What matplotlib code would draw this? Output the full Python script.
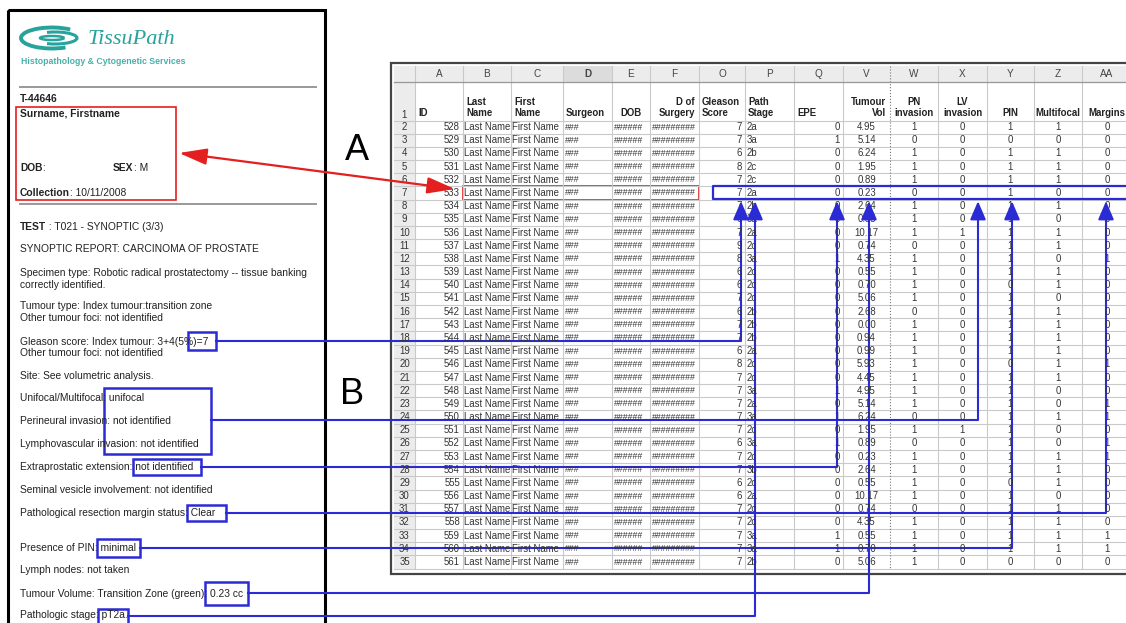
import numpy as np
import matplotlib.pyplot as plt
from matplotlib.patches import Rectangle, Arc

# ---- spreadsheet data (rows 2..35) ----
ids = list(range(528, 562))
gleason = [7, 7, 6, 8, 7, 7, 7, 6, 7, 9, 8, 6, 6, 7, 6, 7, 7, 6, 8, 7, 7, 7, 7, 7, 6, 7, 7, 6, 6, 7, 7, 7, 7, 7]
path_stage = ['2a', '3a', '2b', '2c', '2c', '2a', '2b', '3a', '2a', '2c', '3a', '2c', '2c', '2c', '2b', '2b', '2b',
              '2a', '2c', '2c', '3a', '2a', '3a', '2c', '3a', '2c', '3b', '2c', '2a', '2c', '2c', '3a', '3a', '2b']
epe = [0, 1, 0, 0, 0, 0, 0, 0, 0, 0, 1, 0, 0, 0, 0, 0, 0, 0, 0, 0, 1, 0, 1, 0, 1, 0, 0, 0, 0, 0, 0, 1, 1, 0]
tumour_vol = [4.95, 5.14, 6.24, 1.95, 0.89, 0.23, 2.64, 0.55, 10.17, 0.74, 4.35, 0.55, 0.70, 5.06, 2.68,
              0.00, 0.94, 0.99, 5.93, 4.45, 4.95, 5.14, 6.24, 1.95, 0.89, 0.23, 2.64, 0.55, 10.17, 0.74,
              4.35, 0.55, 0.70, 5.06]
pn_inv = [1, 0, 1, 1, 1, 0, 1, 1, 1, 0, 1, 1, 1, 1, 0, 1, 1, 1, 1, 1, 1, 1, 0, 1, 0, 1, 1, 1, 1, 0, 1, 1, 1, 1]
lv_inv = [0, 0, 0, 0, 0, 0, 0, 0, 1, 0, 0, 0, 0, 0, 0, 0, 0, 0, 0, 0, 0, 0, 0, 1, 0, 0, 0, 0, 0, 0, 0, 0, 0, 0]
pin = [1, 0, 1, 1, 1, 1, 1, 1, 1, 1, 1, 1, 0, 1, 1, 1, 1, 1, 0, 1, 1, 1, 1, 1, 1, 1, 1, 0, 1, 1, 1, 1, 1, 0]
multifocal = [1, 0, 1, 1, 1, 0, 1, 0, 1, 1, 0, 1, 1, 0, 1, 1, 1, 1, 1, 1, 0, 0, 1, 0, 0, 1, 1, 1, 0, 1, 1, 1, 1, 0]
margins = [0, 0, 0, 0, 0, 0, 0, 0, 0, 0, 1, 0, 0, 0, 0, 0, 0, 0, 1, 0, 0, 1, 1, 0, 1, 1, 0, 0, 0, 0, 0, 1, 1, 0]

col_letters = ['A', 'B', 'C', 'D', 'E', 'F', 'O', 'P', 'Q', 'V', 'W', 'X', 'Y', 'Z', 'AA']
col_headers = ['ID', 'Last\nName', 'First\nName', 'Surgeon', 'DOB', 'D of\nSurgery', 'Gleason\nScore',
               'Path\nStage', 'EPE', 'Tumour\nVol', 'PN\ninvasion', 'LV\ninvasion', 'PIN', 'Multifocal', 'Margins']

# ---- report text ----
report_lines = [
    ('TEST', ' : T021 - SYNOPTIC (3/3)', 227),
    ('', 'SYNOPTIC REPORT: CARCINOMA OF PROSTATE', 249),
    ('', 'Specimen type: Robotic radical prostatectomy -- tissue banking', 273),
    ('', 'correctly identified.', 285),
    ('', 'Tumour type: Index tumour:transition zone', 306),
    ('', 'Other tumour foci: not identified', 318),
    ('', 'Gleason score: Index tumour: 3+4(5%)=7', 342),
    ('', 'Other tumour foci: not identified', 353),
    ('', 'Site: See volumetric analysis.', 376),
    ('', 'Unifocal/Multifocal: unifocal', 398),
    ('', 'Perineural invasion: not identified', 421),
    ('', 'Lymphovascular invasion: not identified', 444),
    ('', 'Extraprostatic extension: not identified', 467),
    ('', 'Seminal vesicle involvement: not identified', 490),
    ('', 'Pathological resection margin status: Clear', 513),
    ('', 'Presence of PIN: minimal', 548),
    ('', 'Lymph nodes: not taken', 570),
    ('', 'Tumour Volume: Transition Zone (green): 0.23 cc', 594),
    ('', 'Pathologic stage: pT2a.', 615),
]

FONT = 'Liberation Sans'
BLUE = '#2b2bd6'
RED = '#e41f1f'
TEAL = '#27a39c'
TXT = '#222222'

fig = plt.figure(figsize=(11.26, 6.23), dpi=100)
ax = fig.add_axes([0, 0, 1, 1])
ax.set_xlim(0, 1126)
ax.set_ylim(623, 0)
ax.axis('off')
renderer = fig.canvas.get_renderer()


def mixed(x, y, bold, rest, size=7.4):
    if bold:
        t = ax.text(x, y, bold, fontsize=size, fontweight='bold', family=FONT, color=TXT, va='center')
        x += t.get_window_extent(renderer).width
    ax.text(x, y, rest, fontsize=size, family=FONT, color=TXT, va='center')


# ---------------- report panel ----------------
ax.add_patch(Rectangle((8, 10), 317, 640, fill=False, ec='black', lw=2.2))
# logo swirl
for cx, w, h, lw, t1, t2 in [(52, 62, 21, 2.8, 35, 335), (55, 44, 12, 2.2, 215, 505), (52, 24, 4, 1.8, 0, 360)]:
    ax.add_patch(Arc((cx, 38), w, h, theta1=t1, theta2=t2, color=TEAL, lw=lw))
ax.text(88, 40, 'TissuPath', family='Liberation Serif', style='italic', fontsize=16, color=TEAL, va='center')
ax.text(21, 61, 'Histopathology & Cytogenetic Services', family=FONT, fontsize=6.3, fontweight='bold',
        color=TEAL, va='center', alpha=0.85)
ax.plot([20, 316], [87, 87], color='#999999', lw=1.4)
ax.plot([20, 316], [204, 204], color='#999999', lw=1.4)

mixed(20, 99, 'T-44646', '')
mixed(20, 114, 'Surname, Firstname', '')
mixed(20, 168, 'DOB', ':')
mixed(113, 168, 'SEX', ': M')
mixed(20, 193, 'Collection', ': 10/11/2008')
for b, r, y in report_lines:
    mixed(20, y, b, r)

ax.add_patch(Rectangle((16, 107), 160, 93, fill=False, ec=RED, lw=1.2))

ax.text(357, 151, 'A', family=FONT, fontsize=26, ha='center', va='center', color='black')
ax.text(352, 394, 'B', family=FONT, fontsize=26, ha='center', va='center', color='black')

# ---------------- spreadsheet ----------------
col_edges = [415, 463, 511, 563, 612, 650, 699, 745, 794, 843, 890, 938, 987, 1034, 1082, 1132]
left, top, head_bot, row1_bot, rh = 394, 66, 82, 120.5, 13.18
n = len(ids)
bottom = row1_bot + n * rh
grid = '#c9c9c9'
fs = 6.9

ax.add_patch(Rectangle((left - 3, top - 3), 760, bottom - top + 8, fc='white', ec='#444444', lw=1.6))
ax.add_patch(Rectangle((left, top), 740, head_bot - top, fc='#ececec', ec='none'))
ax.add_patch(Rectangle((left, head_bot), col_edges[0] - left, bottom - head_bot, fc='#ececec', ec='none'))
ax.add_patch(Rectangle((col_edges[3], top), col_edges[4] - col_edges[3], head_bot - top, fc='#dcdcdc', ec='none'))

row_edges = [head_bot, row1_bot] + [row1_bot + (i + 1) * rh for i in range(n)]
for y in row_edges:
    ax.plot([left, 1126], [y, y], color=grid, lw=0.8)
for i, x in enumerate(col_edges[:-1]):
    ls = ':' if col_letters[i] == 'W' else '-'
    c = '#777777' if ls == ':' else grid
    ax.plot([x, x], [top, bottom], color=c, lw=0.8, ls=ls)
ax.plot([left, 1126], [head_bot, head_bot], color='#999999', lw=0.9)

centers = [(a + b) / 2 for a, b in zip(col_edges[:-1], col_edges[1:])]
for i, lab in enumerate(col_letters):
    ax.text(centers[i], (top + head_bot) / 2, lab, family=FONT, fontsize=7.2, ha='center', va='center',
            color='#444444', fontweight='bold' if lab == 'D' else 'normal')

# header row 1
ax.text((left + col_edges[0]) / 2, row1_bot - 6, '1', family=FONT, fontsize=fs, ha='center', va='center', color='#333')
head_align = ['left', 'left', 'left', 'left', 'center', 'right', 'left', 'left', 'left', 'right',
              'center', 'center', 'center', 'center', 'center']
for i, h in enumerate(col_headers):
    ha = head_align[i]
    x = col_edges[i] + 3 if ha == 'left' else (col_edges[i + 1] - 4 if ha == 'right' else centers[i])
    ax.text(x, row1_bot - 2, h, family=FONT, fontsize=fs, fontweight='bold', ha=ha, va='bottom',
            color='#222222', linespacing=1.15, multialignment=ha)

# data rows
for r in range(n):
    yc = row1_bot + (r + 0.5) * rh
    ax.text((left + col_edges[0]) / 2, yc, str(r + 2), family=FONT, fontsize=fs, ha='center', va='center', color='#333')
    cells = [(str(ids[r]), 'right'), ('Last Name', 'left'), ('First Name', 'left'), ('###', 'left'),
             ('######', 'left'), ('#########', 'left'), (str(gleason[r]), 'right'), (path_stage[r], 'left'),
             (str(epe[r]), 'right'), (f'{tumour_vol[r]:.2f}', 'center'), (str(pn_inv[r]), 'center'),
             (str(lv_inv[r]), 'center'), (str(pin[r]), 'center'), (str(multifocal[r]), 'center'),
             (str(margins[r]), 'center')]
    for i, (s, ha) in enumerate(cells):
        x = col_edges[i] + 1.5 if ha == 'left' else (col_edges[i + 1] - 3 if ha == 'right' else centers[i])
        size = 6.3 if s.startswith('#') else fs
        ax.text(x, yc, s, family=FONT, fontsize=size, ha=ha, va='center', color='#333333')


def row_y(k):
    return row1_bot + (k - 1.5) * rh


# red highlight and double arrow
ax.add_patch(Rectangle((col_edges[1], row_y(7) - 7), col_edges[6] - col_edges[1], 14, fill=False, ec=RED, lw=1.2))
ax.annotate('', xy=(179, 153), xytext=(455, 189),
            arrowprops=dict(arrowstyle='<|-|>,head_length=0.85,head_width=0.25', color=RED, lw=1.6,
                            mutation_scale=20, shrinkA=0, shrinkB=0))

# blue highlight of row 7
ax.plot([1126, 713, 713, 1126], [row_y(7) - 6.5, row_y(7) - 6.5, row_y(7) + 6.5, row_y(7) + 6.5], color=BLUE, lw=1.6)

# blue boxes in report and connectors: (box x0, x1, y0, y1, line y, target column x)
links = [
    (188, 216, 332, 350, 341, 741),
    (104, 211, 388, 454, 420, 978),
    (133, 201, 459, 475, 467, 837),
    (187, 226, 505, 521, 513, 1106),
    (97, 140, 539, 557, 548, 1012),
    (205, 248, 582, 605, 593, 869),
    (98, 128, 609, 624, 616, 755),
]
tip = row_y(8) - 5
for x0, x1, y0, y1, ly, tx in links:
    ax.add_patch(Rectangle((x0, y0), x1 - x0, y1 - y0, fill=False, ec=BLUE, lw=1.8))
    ax.plot([x1, tx, tx], [ly, ly, tip + 10], color=BLUE, lw=1.5)
    ax.annotate('', xy=(tx, tip), xytext=(tx, tip + 14),
                arrowprops=dict(arrowstyle='-|>,head_length=0.7,head_width=0.3', color=BLUE, lw=1.5,
                                mutation_scale=16, shrinkA=0, shrinkB=0))

fig.savefig('out.png', dpi=100)
